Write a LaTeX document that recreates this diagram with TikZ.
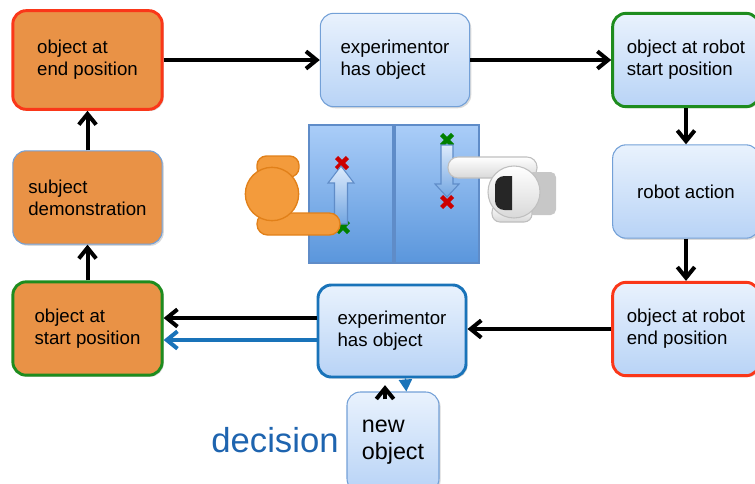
\documentclass[tikz,border=0pt]{standalone}
\usepackage{fontspec}
\setmainfont{Liberation Sans}
\usetikzlibrary{arrows.meta,shadows}

\definecolor{boxorange}{RGB}{233,146,70}
\definecolor{boxtop}{RGB}{233,242,253}
\definecolor{boxbottom}{RGB}{184,211,246}
\definecolor{thinblue}{RGB}{115,160,215}
\definecolor{startgreen}{RGB}{30,140,30}
\definecolor{endred}{RGB}{250,55,25}
\definecolor{userblue}{RGB}{25,115,185}
\definecolor{decisionblue}{RGB}{30,100,175}
\definecolor{panelhi}{RGB}{170,205,248}
\definecolor{panello}{RGB}{90,150,220}
\definecolor{panelline}{RGB}{95,140,200}
\definecolor{humanfill}{RGB}{243,155,60}
\definecolor{humanline}{RGB}{225,128,25}

\tikzset{
	stage/.style      = {rounded corners=10pt, minimum width=112pt, minimum height=70pt,
		align=left, font=\fontsize{14}{16.5}\selectfont,
		drop shadow={shadow xshift=1.2pt, shadow yshift=-1.2pt, opacity=0.3}},
	robotstage/.style = {stage, top color=boxtop, bottom color=boxbottom, draw=thinblue, line width=0.8pt},
	humanstage/.style = {stage, fill=boxorange, draw=thinblue, line width=0.8pt},
	startpos/.style   = {draw=startgreen, line width=2.2pt},
	endpos/.style     = {draw=endred, line width=2.2pt},
	handover/.style   = {draw=userblue, line width=2.2pt},
	flow/.style       = {line width=3pt, -{Straight Barb[length=8pt,width=13pt]}},
	feedback/.style   = {flow, userblue},
	human/.style      = {fill=humanfill, draw=humanline, line width=1pt},
	gripper/.style    = {top color=white, bottom color=black!15, draw=black!25, line width=0.8pt},
	movearrow/.style  = {top color=white!60!panelhi, bottom color=panello!85, draw=panelline, line width=0.8pt}
}
% cross marking a start or goal spot on the table
\newcommand{\spotmark}[3]{\draw[#1, line width=3.2pt, shift={(#2,#3)}] (-5.5,-5.5) -- (5.5,5.5) (-5.5,5.5) -- (5.5,-5.5);}

\begin{document}
\begin{tikzpicture}[x=0.75pt, y=-0.75pt]
	\useasboundingbox (0,0) rectangle (755,483);

	% human side (left column) and robot side (right column)
	\draw
	node at (87.5,60)[humanstage, endpos, minimum height=74pt] (hend) {object at\\end position}
	node at (87.5,197.5)[humanstage] (demo) {subject\\demonstration}
	node at (87.5,328.5)[humanstage, startpos] (hstart) {object at\\start position}
	node at (395,60)[robotstage] (exp1) {experimentor\\has object}
	node at (392,331)[robotstage, handover, minimum width=111pt, minimum height=69pt] (exp2) {experimentor\\has object}
	node at (686,60)[robotstage, startpos, minimum width=110pt] (rstart) {object at robot\\start position}
	node at (686,191.5)[robotstage, minimum width=110pt] (ract) {robot action}
	node at (686,329)[robotstage, endpos, minimum width=110pt] (rend) {object at robot\\end position}
	node at (393,442)[robotstage, minimum width=69pt, minimum height=75pt, font=\fontsize{17.5}{20}\selectfont] (newobj) {new\\object};

	\node[text=decisionblue, font=\fontsize{26}{30}\selectfont] at (275,440) (decision) {decision};

	\draw[flow] (hend) -- (exp1);
	\draw[flow] (exp1) -- (rstart);
	\draw[flow] (rstart) -- (ract);
	\draw[flow] (ract) -- (rend);
	\draw[flow] (rend.west) -- (rend.west -| exp2.east);
	\draw[flow] ([yshift=9.75pt]exp2.west) -- ([yshift=9.75pt]exp2.west -| hstart.east);
	\draw[feedback] ([yshift=-6.75pt]exp2.west) -- ([yshift=-6.75pt]exp2.west -| hstart.east);
	\draw[flow] (hstart) -- (demo);
	\draw[flow] (demo) -- (hend);
	\draw[flow] ([xshift=-6pt,yshift=-6pt]newobj.north) -- ([xshift=-5.25pt,yshift=-5pt]exp2.south);
	\draw[userblue, line width=1pt, -{Triangle[length=9pt,width=10pt]}] ([xshift=10pt]exp2.south) -- ([xshift=10pt]newobj.north);

	% table seen from above, split between subject and robot
	\shade[top color=panelhi, bottom color=panello, draw=panelline, line width=1pt] (309,125) rectangle (393,263);
	\shade[top color=panelhi, bottom color=panello, draw=panelline, line width=1pt] (395,125) rectangle (479,263);

	\spotmark{red!80!black}{342}{163}
	\spotmark{green!50!black}{343}{227}
	\shade[movearrow] (334.5,224) -- (334.5,183) -- (328,183) -- (341,166) -- (354,183) -- (347.5,183) -- (347.5,224) -- cycle;

	\spotmark{green!50!black}{447}{140}
	\spotmark{red!80!black}{447}{202}
	\shade[movearrow] (441,145) -- (441,184) -- (435,184) -- (447,197) -- (459,184) -- (453,184) -- (453,145) -- cycle;

	% subject reaching in
	\draw[human, rounded corners=7pt] (257,156) rectangle (299,177);
	\draw[human, rounded corners=8pt] (257,213) rectangle (340,235);
	\draw[human] (272,194) circle (20pt);

	% robot arm reaching in
	\shade[gripper, rounded corners=7.5pt] (448,157) rectangle (537,178);
	\fill[black!22, rounded corners=4pt] (528,172) rectangle (556,215);
	\shade[gripper, rounded corners=6pt] (492,204) rectangle (532,222);
	\shade[gripper] (514,192) circle (19.5pt);
	\fill[black!85, rounded corners=7pt] (512,176) -- (495,176) -- (495,210) [sharp corners] -- (512,210) -- cycle;
\end{tikzpicture}
\end{document}
